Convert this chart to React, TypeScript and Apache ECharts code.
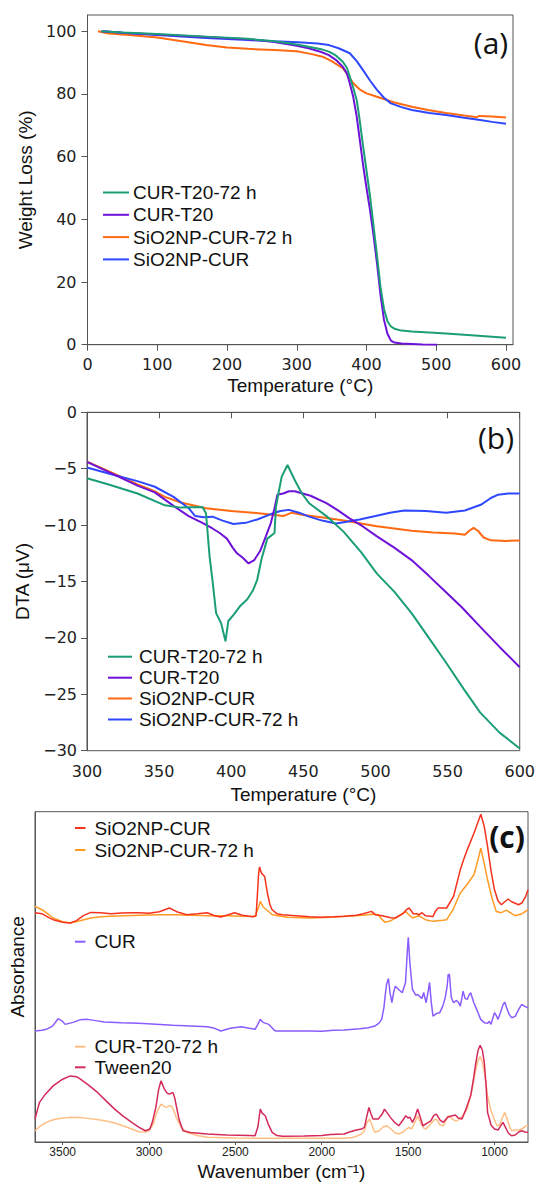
import React, { useEffect, useRef } from "react";
import * as echarts from "echarts";

// ---------- Panel (a): TGA ----------
const tgaXTicks = [0, 100, 200, 300, 400, 500, 600];
const tgaYTicks = [0, 20, 40, 60, 80, 100];
const tgaCurT20_72h = [[20,100],[50,99.6],[100,99.1],[170,98.3],[230,97.6],[268,96.8],[300,95.8],[317,95.1],[335,94.3],[346,93.5],[356,92.3],[366,90.3],[372,88.3],[376,85.5],[381,82],[386,78],[390,72],[395,63.5],[400,55.5],[405,47.5],[410,38],[415,28.5],[420,18.5],[425,11.5],[430,7.5],[435,5.8],[440,5.1],[450,4.5],[465,4.2],[490,3.9],[514,3.6],[550,3.0],[575,2.6],[600,2.2]];
const tgaCurT20 = [[22,100],[50,99.5],[100,99],[170,98.2],[230,97.5],[268,96.6],[300,95.4],[317,94.6],[335,93.4],[346,92.4],[356,90.9],[366,88.7],[372,86.5],[376,83.4],[381,79],[386,72.7],[390,66],[395,57.5],[400,50],[405,43],[410,35],[415,26],[420,16],[425,8],[430,3.5],[435,1.3],[440,0.7],[450,0.4],[465,0.25],[480,0.1],[501,0]];
const tgaSiO2_72h = [[15,100],[30,99.3],[60,98.8],[100,98],[140,96.7],[170,95.6],[200,94.8],[230,94.4],[268,94],[300,93.6],[320,92.8],[337,91.9],[350,90.5],[366,88.2],[375,85.5],[381,83.4],[390,81.5],[400,80.2],[415,79.1],[440,77.3],[465,75.9],[490,74.8],[514,73.9],[540,73.1],[558,72.6],[562,73.0],[580,72.8],[600,72.5]];
const tgaSiO2 = [[20,100],[60,99.4],[100,98.8],[170,97.9],[230,97.2],[268,96.8],[302,96.5],[330,96.1],[346,95.6],[360,94.6],[376,93],[386,90.5],[395,87.6],[405,84.3],[415,81.3],[425,78.8],[435,77],[450,75.8],[465,74.9],[490,73.9],[514,73.3],[540,72.4],[563,71.7],[580,71.1],[600,70.5]];

// ---------- Panel (b): DTA ----------
const dtaCurT20_72h = [[300,-5.85],[315,-6.4],[335,-7.2],[354,-8.25],[365,-8.45],[380,-8.4],[382.5,-8.95],[385,-12.8],[387,-14.9],[389.5,-17.8],[393,-18.7],[396,-20.3],[398,-18.5],[402,-17.9],[406,-17.2],[411,-16.6],[415,-15.8],[418,-14.85],[421,-13],[425,-11.2],[430,-10.7],[431,-8.4],[433,-7],[435,-5.7],[439,-4.67],[444,-6.0],[449,-7.2],[454,-8.06],[466,-9.2],[478,-10.6],[490,-12.4],[501,-14.3],[513,-15.9],[525,-17.8],[537,-20.0],[549,-22.2],[561,-24.5],[572.5,-26.6],[586,-28.4],[600,-29.8]];
const dtaCurT20 = [[300,-4.4],[320,-5.6],[335,-6.5],[347,-7.1],[360,-8.3],[370.5,-9.2],[380,-9.8],[387,-10.3],[392,-10.7],[397,-11.2],[401,-12.0],[404,-12.5],[408,-12.9],[412,-13.4],[416,-13.1],[420,-12.3],[424,-11.0],[427.5,-9.8],[430,-8.5],[432,-7.3],[436,-7.2],[440,-7.0],[444,-7.0],[455,-7.4],[466,-8.06],[474,-8.7],[482,-9.4],[491,-10.1],[501,-11.0],[513,-12.0],[525,-13.1],[537,-14.5],[546,-15.6],[560,-17.3],[572.5,-19.0],[586,-20.8],[600,-22.6]];
const dtaSiO2 = [[300,-4.38],[320,-5.5],[335,-6.4],[347,-7.0],[354,-7.5],[365,-8.0],[382.5,-8.5],[400,-8.75],[415,-8.9],[430,-9.1],[436,-9.2],[442,-8.9],[450,-9.1],[465,-9.35],[478,-9.6],[490,-9.85],[501,-10.1],[513,-10.3],[525,-10.5],[540,-10.65],[555,-10.75],[562,-10.85],[565,-10.5],[568,-10.25],[571,-10.5],[575,-11.1],[580,-11.35],[590,-11.4],[600,-11.37]];
const dtaSiO2_72h = [[300,-4.9],[320,-5.6],[335,-6.1],[347,-6.6],[360,-7.5],[370.5,-8.5],[375,-9.2],[381,-9.3],[387,-9.25],[394,-9.6],[401.5,-9.9],[410,-9.8],[418,-9.5],[428,-9.0],[434,-8.75],[440,-8.65],[447,-8.9],[454,-9.25],[463,-9.6],[472.6,-9.85],[480,-9.7],[489,-9.5],[500,-9.2],[510,-8.9],[520,-8.7],[535,-8.75],[549,-8.9],[562,-8.7],[573,-8.2],[580,-7.6],[585,-7.3],[592,-7.2],[600,-7.2]];

// ---------- Panel (c): FTIR ----------
const irXTicks = [1000, 1500, 2000, 2500, 3000, 3500];
const irSiO2 = [[3660,2.30],[3620,2.29],[3580,2.25],[3555,2.23],[3500,2.205],[3456,2.197],[3420,2.22],[3380,2.27],[3337,2.303],[3280,2.30],[3220,2.29],[3159,2.297],[3100,2.30],[3060,2.30],[3000,2.295],[2940,2.31],[2882,2.347],[2840,2.31],[2782,2.28],[2720,2.29],[2663,2.30],[2620,2.27],[2584,2.257],[2540,2.28],[2505,2.30],[2460,2.275],[2400,2.26],[2380,2.27],[2365,2.70],[2360,2.76],[2350,2.70],[2340,2.68],[2330,2.66],[2315,2.50],[2300,2.38],[2287,2.33],[2260,2.29],[2228,2.28],[2150,2.27],[2069,2.26],[2000,2.255],[1930,2.26],[1871,2.265],[1800,2.275],[1760,2.29],[1712,2.313],[1690,2.28],[1650,2.27],[1600,2.25],[1574,2.247],[1530,2.29],[1510,2.33],[1494,2.347],[1470,2.29],[1450,2.29],[1435,2.28],[1420,2.30],[1400,2.27],[1356,2.263],[1340,2.32],[1326,2.347],[1277,2.347],[1237,2.463],[1198,2.73],[1175,2.85],[1158,2.93],[1119,3.097],[1079,3.287],[1060,3.17],[1040,2.963],[1020,2.72],[1000,2.53],[980,2.42],[960,2.38],[940,2.41],[921,2.437],[900,2.41],[861,2.38],[840,2.40],[820,2.46],[806,2.53]];
const irSiO2_72h = [[3660,2.363],[3620,2.33],[3580,2.28],[3555,2.247],[3500,2.21],[3456,2.197],[3400,2.22],[3330,2.25],[3258,2.263],[3150,2.27],[3050,2.275],[2950,2.28],[2862,2.28],[2750,2.275],[2650,2.27],[2550,2.27],[2450,2.265],[2386,2.263],[2365,2.36],[2356,2.413],[2340,2.36],[2320,2.33],[2300,2.30],[2287,2.28],[2200,2.255],[2069,2.247],[1950,2.255],[1850,2.265],[1760,2.275],[1710,2.285],[1673,2.28],[1650,2.23],[1633,2.203],[1600,2.22],[1560,2.26],[1514,2.313],[1490,2.27],[1474,2.247],[1440,2.27],[1400,2.23],[1356,2.213],[1300,2.225],[1277,2.23],[1240,2.33],[1198,2.497],[1160,2.58],[1119,2.68],[1100,2.80],[1079,2.947],[1060,2.80],[1040,2.63],[1015,2.45],[990,2.313],[960,2.30],[931,2.325],[900,2.29],[881,2.27],[840,2.29],[806,2.33]];
const irCur = [[3660,1.113],[3620,1.12],[3595,1.13],[3560,1.16],[3526,1.237],[3500,1.21],[3486,1.18],[3440,1.20],[3400,1.225],[3357,1.23],[3300,1.215],[3258,1.203],[3160,1.195],[3060,1.19],[2960,1.18],[2862,1.17],[2760,1.163],[2663,1.157],[2620,1.14],[2584,1.113],[2530,1.14],[2465,1.157],[2420,1.14],[2386,1.13],[2370,1.18],[2356,1.23],[2340,1.20],[2307,1.18],[2280,1.13],[2267,1.113],[2150,1.113],[2069,1.113],[2000,1.11],[1930,1.12],[1871,1.123],[1780,1.135],[1730,1.145],[1693,1.163],[1670,1.19],[1653,1.23],[1640,1.35],[1633,1.463],[1625,1.58],[1614,1.64],[1605,1.50],[1594,1.397],[1584,1.50],[1574,1.563],[1555,1.53],[1534,1.497],[1515,1.60],[1505,1.90],[1499,2.053],[1490,1.80],[1475,1.53],[1455,1.47],[1445,1.48],[1435,1.463],[1420,1.44],[1410,1.50],[1396,1.397],[1385,1.50],[1376,1.60],[1366,1.40],[1356,1.263],[1335,1.29],[1317,1.297],[1300,1.36],[1285,1.45],[1275,1.55],[1268,1.68],[1261,1.68],[1250,1.45],[1237,1.397],[1220,1.42],[1208,1.40],[1198,1.363],[1188,1.45],[1182,1.513],[1170,1.44],[1158,1.43],[1148,1.47],[1138,1.497],[1120,1.40],[1099,1.313],[1080,1.23],[1059,1.197],[1040,1.19],[1030,1.21],[1020,1.18],[1010,1.24],[1000,1.297],[990,1.27],[980,1.23],[965,1.30],[950,1.38],[941,1.403],[930,1.35],[915,1.28],[901,1.247],[880,1.26],[860,1.33],[842,1.38],[825,1.36],[806,1.347]];
const irCurT20_72h = [[3660,0.113],[3630,0.16],[3595,0.197],[3550,0.225],[3500,0.24],[3456,0.247],[3400,0.245],[3357,0.237],[3300,0.225],[3250,0.21],[3199,0.19],[3130,0.15],[3060,0.103],[3020,0.10],[3000,0.113],[2975,0.18],[2955,0.30],[2931,0.38],[2915,0.36],[2902,0.347],[2885,0.36],[2872,0.363],[2860,0.33],[2842,0.247],[2815,0.15],[2783,0.097],[2720,0.065],[2663,0.047],[2500,0.04],[2356,0.037],[2200,0.037],[2000,0.037],[1871,0.037],[1820,0.045],[1792,0.063],[1770,0.08],[1753,0.113],[1740,0.19],[1723,0.23],[1710,0.17],[1693,0.097],[1670,0.11],[1645,0.15],[1623,0.163],[1600,0.13],[1575,0.09],[1554,0.08],[1530,0.10],[1510,0.13],[1494,0.147],[1480,0.13],[1460,0.20],[1445,0.263],[1430,0.20],[1410,0.14],[1396,0.13],[1370,0.18],[1350,0.22],[1336,0.23],[1315,0.17],[1296,0.163],[1280,0.22],[1267,0.263],[1250,0.24],[1230,0.215],[1217,0.213],[1190,0.25],[1158,0.33],[1130,0.52],[1108,0.73],[1095,0.82],[1083,0.857],[1070,0.80],[1055,0.663],[1040,0.46],[1020,0.313],[1000,0.22],[985,0.163],[970,0.17],[955,0.24],[941,0.297],[925,0.22],[910,0.14],[901,0.113],[880,0.12],[860,0.12],[842,0.13],[820,0.16],[806,0.163]];
const irTween20 = [[3660,0.23],[3645,0.33],[3634,0.397],[3600,0.48],[3555,0.563],[3500,0.63],[3456,0.663],[3420,0.655],[3397,0.63],[3350,0.57],[3298,0.497],[3250,0.415],[3199,0.33],[3150,0.26],[3100,0.197],[3060,0.15],[3021,0.113],[2995,0.13],[2981,0.197],[2960,0.35],[2945,0.52],[2931,0.613],[2920,0.57],[2911,0.53],[2895,0.49],[2882,0.48],[2862,0.497],[2852,0.45],[2842,0.363],[2825,0.22],[2803,0.113],[2760,0.095],[2663,0.08],[2550,0.07],[2420,0.065],[2386,0.063],[2370,0.15],[2356,0.33],[2345,0.29],[2327,0.263],[2310,0.18],[2287,0.097],[2260,0.065],[2228,0.057],[2100,0.06],[2000,0.065],[1950,0.075],[1871,0.08],[1840,0.10],[1800,0.12],[1770,0.13],[1753,0.147],[1740,0.25],[1727,0.347],[1715,0.28],[1703,0.23],[1673,0.23],[1650,0.28],[1637,0.33],[1620,0.29],[1603,0.247],[1580,0.2],[1554,0.163],[1530,0.22],[1514,0.263],[1500,0.24],[1490,0.25],[1475,0.197],[1460,0.25],[1445,0.33],[1430,0.25],[1415,0.163],[1390,0.19],[1370,0.21],[1350,0.27],[1336,0.28],[1315,0.22],[1296,0.197],[1270,0.25],[1250,0.26],[1227,0.27],[1210,0.24],[1188,0.23],[1165,0.33],[1138,0.463],[1120,0.65],[1108,0.797],[1095,0.92],[1083,0.97],[1070,0.92],[1059,0.797],[1048,0.55],[1040,0.297],[1020,0.17],[1000,0.13],[980,0.12],[965,0.16],[951,0.197],[940,0.16],[920,0.09],[901,0.063],[880,0.07],[860,0.10],[842,0.113],[825,0.10],[806,0.097]];

const C_GREEN = "#1b9e77";
const C_PURPLE = "#6f12d8";
const C_ORANGE = "#ff6a12";
const C_BLUE = "#2f48ff";
const C_RED = "#f5321c";
const C_ORANGE2 = "#ff9a22";
const C_CUR = "#8a5cff";
const C_LIGHTOR = "#ffbf85";
const C_TWEEN = "#d42a5a";

const TICK_FONT = "DejaVu Sans";
const NAME_FONT = "Liberation Sans";
const AXIS_COLOR = "#555";

const minusFmt = (v: number) => (v < 0 ? "\u2212" + Math.abs(v) : String(v));
const plainFmt = (v: number) => String(v);

function line(name: string, data: number[][], color: string, idx: number, width = 2, z = 2) {
  return {
    type: "line",
    name,
    data,
    xAxisIndex: idx,
    yAxisIndex: idx,
    showSymbol: false,
    symbol: "none",
    smooth: false,
    z,
    lineStyle: { color, width },
    itemStyle: { color },
  };
}

function legendItems(items: { label: string; color: string; y: number }[], x1: number, x2: number, tx: number) {
  const out: any[] = [];
  items.forEach((it) => {
    out.push({
      type: "line",
      shape: { x1, y1: it.y, x2, y2: it.y },
      style: { stroke: it.color, lineWidth: 2 },
      z: 100,
    });
    out.push({
      type: "text",
      x: tx,
      y: it.y,
      z: 100,
      style: {
        text: it.label,
        fontSize: 19,
        fontFamily: NAME_FONT,
        fill: "#111",
        verticalAlign: "middle",
        align: "left",
      },
    });
  });
  return out;
}

export default function App() {
  const ref = useRef<HTMLDivElement>(null);
  useEffect(() => {
    if (!ref.current) return;
    const chart = echarts.init(ref.current, null, { renderer: "svg", width: 538, height: 1182 });

    const axisLine = { show: true, lineStyle: { color: AXIS_COLOR, width: 1 } };
    const tickStyle = { show: true, inside: false, length: 6, lineStyle: { color: AXIS_COLOR, width: 1 } };
    const labelStyle = { fontFamily: TICK_FONT, fontSize: 16, color: "#222" };
    const nameStyle = { fontFamily: NAME_FONT, fontSize: 19, color: "#111" };

    const option: any = {
      animation: false,
      backgroundColor: "#fff",
      grid: [
        { left: 87.5, top: 15, width: 425.5, height: 329.7, show: true, borderColor: AXIS_COLOR, borderWidth: 1, containLabel: false },
        { left: 87, top: 412.3, width: 433, height: 338.4, show: true, borderColor: AXIS_COLOR, borderWidth: 1, containLabel: false },
        { left: 33.3, top: 811.7, width: 494.7, height: 331.3, show: true, borderColor: AXIS_COLOR, borderWidth: 1, containLabel: false },
      ],
      xAxis: [
        {
          gridIndex: 0, type: "value", min: 0, max: 610,
          name: "Temperature (°C)", nameLocation: "middle", nameGap: 31, nameTextStyle: nameStyle,
          axisLine, axisTick: { ...tickStyle, customValues: tgaXTicks },
          axisLabel: { ...labelStyle, margin: 12, customValues: tgaXTicks, formatter: plainFmt },
          splitLine: { show: false },
        },
        {
          gridIndex: 1, type: "value", min: 300, max: 600, interval: 50,
          name: "Temperature (°C)", nameLocation: "middle", nameGap: 34, nameTextStyle: nameStyle,
          axisLine, axisTick: tickStyle,
          axisLabel: { ...labelStyle, margin: 13, formatter: plainFmt },
          splitLine: { show: false },
        },
        {
          gridIndex: 2, type: "value", min: 806, max: 3660, inverse: true,
          name: "Wavenumber (cm\u207B\u00B9)", nameLocation: "middle", nameGap: 20, nameTextStyle: nameStyle,
          axisLine, axisTick: { show: true, length: 3, lineStyle: { color: AXIS_COLOR }, customValues: irXTicks },
          axisLabel: { fontFamily: NAME_FONT, fontSize: 12, color: "#222", margin: 4, customValues: irXTicks, formatter: plainFmt },
          splitLine: { show: false },
        },
      ],
      yAxis: [
        {
          gridIndex: 0, type: "value", min: 0, max: 105.2,
          name: "Weight Loss (%)", nameLocation: "middle", nameRotate: 90, nameGap: 44, nameTextStyle: nameStyle,
          axisLine, axisTick: { ...tickStyle, customValues: tgaYTicks },
          axisLabel: { ...labelStyle, margin: 11, customValues: tgaYTicks, formatter: plainFmt },
          splitLine: { show: false },
        },
        {
          gridIndex: 1, type: "value", min: -30, max: 0, interval: 5,
          name: "DTA (μV)", nameLocation: "middle", nameRotate: 90, nameGap: 51, nameTextStyle: nameStyle,
          axisLine, axisTick: tickStyle,
          axisLabel: { ...labelStyle, margin: 10, formatter: minusFmt },
          splitLine: { show: false },
        },
        {
          gridIndex: 2, type: "value", min: 0, max: 3.313,
          name: "Absorbance", nameLocation: "middle", nameRotate: 90, nameGap: 8,
          nameTextStyle: { ...nameStyle, padding: [0, 0, 0, 20] },
          axisLine, axisTick: { show: false }, axisLabel: { show: false },
          splitLine: { show: false },
        },
      ],
      series: [
        line("SiO2NP-CUR-72 h", tgaSiO2_72h, C_ORANGE, 0),
        line("SiO2NP-CUR", tgaSiO2, C_BLUE, 0),
        line("CUR-T20", tgaCurT20, C_PURPLE, 0),
        line("CUR-T20-72 h", tgaCurT20_72h, C_GREEN, 0),

        line("SiO2NP-CUR", dtaSiO2, C_ORANGE, 1),
        line("SiO2NP-CUR-72 h", dtaSiO2_72h, C_BLUE, 1),
        line("CUR-T20", dtaCurT20, C_PURPLE, 1),
        line("CUR-T20-72 h", dtaCurT20_72h, C_GREEN, 1),

        line("SiO2NP-CUR-72 h", irSiO2_72h, C_ORANGE2, 2, 1.5),
        line("SiO2NP-CUR", irSiO2, C_RED, 2, 1.5),
        line("CUR", irCur, C_CUR, 2, 1.5),
        line("CUR-T20-72 h", irCurT20_72h, C_LIGHTOR, 2, 1.5),
        line("Tween20", irTween20, C_TWEEN, 2, 1.5),
      ],
      graphic: [
        ...legendItems(
          [
            { label: "CUR-T20-72 h", color: C_GREEN, y: 192.5 },
            { label: "CUR-T20", color: C_PURPLE, y: 214.8 },
            { label: "SiO2NP-CUR-72 h", color: C_ORANGE, y: 237.1 },
            { label: "SiO2NP-CUR", color: C_BLUE, y: 259.4 },
          ],
          103, 129, 133
        ),
        ...legendItems(
          [
            { label: "CUR-T20-72 h", color: C_GREEN, y: 656.7 },
            { label: "CUR-T20", color: C_PURPLE, y: 677.7 },
            { label: "SiO2NP-CUR", color: C_ORANGE, y: 698.5 },
            { label: "SiO2NP-CUR-72 h", color: C_BLUE, y: 719.5 },
          ],
          108, 132, 139
        ),
        ...legendItems(
          [
            { label: "SiO2NP-CUR", color: C_RED, y: 828 },
            { label: "SiO2NP-CUR-72 h", color: C_ORANGE2, y: 850 },
            { label: "CUR", color: C_CUR, y: 941.7 },
            { label: "CUR-T20-72 h", color: C_LIGHTOR, y: 1046.7 },
            { label: "Tween20", color: C_TWEEN, y: 1067.3 },
          ],
          75, 85.5, 94.5
        ),
        {
          type: "text", x: 491, y: 42, z: 100,
          style: { text: "(a)", fontSize: 30, fontFamily: "Open Sans", fill: "#111", align: "center", verticalAlign: "middle" },
        },
        {
          type: "text", x: 496, y: 437, z: 100,
          style: { text: "(b)", fontSize: 30, fontFamily: "Open Sans", fill: "#111", align: "center", verticalAlign: "middle" },
        },
        {
          type: "text", x: 507, y: 836, z: 100,
          style: { text: "(c)", fontSize: 30, fontWeight: "bold", fontFamily: "Open Sans", fill: "#111", align: "center", verticalAlign: "middle" },
        },
      ],
    };

    chart.setOption(option);
    return () => chart.dispose();
  }, []);

  return (
    <div
      ref={ref}
      style={{ position: "absolute", left: 0, top: 0, width: 538, height: 1182, background: "#fff" }}
    />
  );
}
